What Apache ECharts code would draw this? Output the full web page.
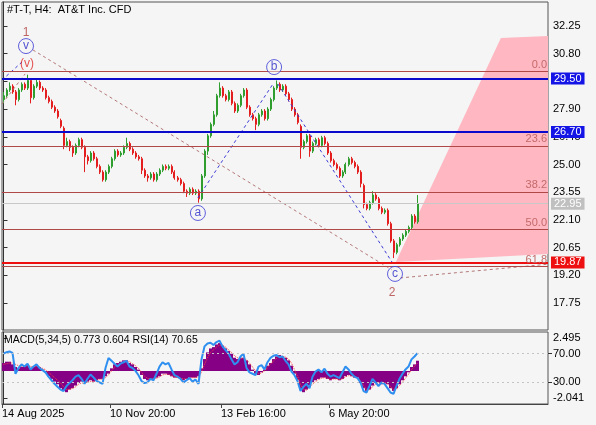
<!DOCTYPE html>
<html>
<head>
<meta charset="utf-8">
<script src="https://cdn.jsdelivr.net/npm/echarts@6/dist/echarts.min.js"></script>
<style>
  html, body { margin: 0; padding: 0; background: #f5f5f5; }
  #chart { width: 596px; height: 425px; }
</style>
</head>
<body>
<div id="chart"></div>
<script>
// H4 candles (one per bar, left to right)
const candleOpen = [
  28.4, 28.6, 28.9, 29.1, 28.8, 28.4, 28.9, 29.2, 29.0, 29.4,
  28.5, 29.1, 29.3, 29.0, 28.9, 28.5, 28.3, 28.0, 27.8, 27.3,
  26.9, 26.0, 26.2, 25.9, 25.6, 26.0, 26.3, 25.9, 25.4, 25.2,
  25.6, 25.3, 24.9, 24.6, 24.2, 24.6, 24.9, 25.3, 25.7, 25.5,
  25.6, 25.9, 26.1, 25.8, 25.6, 25.4, 25.3, 24.7, 24.4, 24.3,
  24.5, 24.2, 24.5, 24.7, 24.9, 24.8, 24.9, 24.6, 24.3, 24.2,
  24.0, 23.6, 23.5, 23.7, 23.5, 23.6, 23.2, 24.4, 25.7, 26.5,
  27.1, 27.6, 28.6, 29.0, 28.6, 28.4, 28.8, 28.2, 27.8, 28.1,
  28.6, 28.9, 28.0, 27.6, 27.4, 27.1, 27.6, 27.8, 27.4, 27.9,
  28.4, 29.0, 29.2, 28.9, 29.1, 28.7, 28.4, 27.9, 27.6, 27.0,
  25.9, 26.2, 26.5, 25.7, 26.1, 26.3, 26.0, 26.4, 26.1, 25.6,
  25.2, 25.0, 24.8, 24.4, 24.6, 25.0, 25.3, 25.1, 24.9, 24.6,
  23.9, 22.9, 22.7, 23.0, 23.4, 23.2, 22.7, 22.5, 22.6, 21.9,
  21.0, 20.4, 20.8, 21.1, 21.3, 21.5, 21.7, 22.3, 22.0
];
const candleClose = [
  28.6, 28.9, 29.1, 28.8, 28.4, 28.9, 29.2, 29.0, 29.4, 28.5,
  29.1, 29.3, 29.0, 28.9, 28.5, 28.3, 28.0, 27.8, 27.5, 27.0,
  26.0, 26.2, 25.9, 25.6, 26.0, 26.3, 25.9, 25.4, 25.2, 25.6,
  25.3, 24.9, 24.6, 24.2, 24.6, 24.9, 25.3, 25.7, 25.5, 25.6,
  25.9, 26.1, 25.8, 25.6, 25.4, 25.3, 24.7, 24.4, 24.3, 24.5,
  24.2, 24.5, 24.7, 24.9, 24.8, 24.9, 24.6, 24.3, 24.2, 24.0,
  23.6, 23.5, 23.7, 23.5, 23.6, 23.2, 24.4, 25.7, 26.5, 27.1,
  27.6, 28.6, 29.0, 28.6, 28.4, 28.8, 28.2, 27.8, 28.1, 28.6,
  28.9, 28.0, 27.6, 27.4, 27.1, 27.6, 27.8, 27.4, 27.9, 28.4,
  29.0, 29.2, 28.9, 29.1, 28.7, 28.4, 27.9, 27.6, 27.2, 25.9,
  26.2, 26.5, 25.7, 26.1, 26.3, 26.0, 26.4, 26.1, 25.6, 25.2,
  25.0, 24.8, 24.4, 24.6, 25.0, 25.3, 25.1, 24.9, 24.6, 24.0,
  22.9, 22.7, 23.0, 23.4, 23.2, 22.7, 22.5, 22.6, 21.9, 21.0,
  20.4, 20.8, 21.1, 21.3, 21.5, 21.7, 22.3, 22.0, 22.95
];
const candleLow = [
  28.2, 28.5, 28.8, 28.7, 28.1, 28.3, 28.8, 28.9, 28.9, 28.2,
  28.4, 29.0, 28.9, 28.8, 28.4, 28.2, 27.9, 27.7, 27.4, 26.9,
  25.8, 25.9, 25.7, 25.4, 25.5, 25.9, 25.8, 24.6, 25.0, 25.1,
  25.2, 24.8, 24.5, 24.1, 24.1, 24.5, 24.8, 25.2, 25.4, 25.4,
  25.5, 25.8, 25.7, 25.5, 25.3, 25.2, 24.5, 24.3, 24.1, 24.2,
  24.1, 24.1, 24.4, 24.6, 24.7, 24.7, 24.5, 24.2, 24.1, 23.9,
  23.5, 23.3, 23.4, 23.4, 23.4, 23.0, 23.1, 24.3, 25.5, 26.4,
  27.0, 27.5, 28.5, 28.5, 28.3, 28.3, 28.1, 27.7, 27.7, 28.0,
  28.5, 27.9, 27.5, 27.3, 26.8, 27.0, 27.5, 27.3, 27.3, 27.8,
  28.3, 28.9, 28.8, 28.8, 28.6, 28.3, 27.8, 27.5, 27.1, 25.3,
  25.8, 26.1, 25.4, 25.6, 26.0, 25.9, 25.9, 26.0, 25.5, 25.1,
  24.9, 24.7, 24.3, 24.3, 24.5, 24.9, 25.0, 24.8, 24.5, 23.8,
  22.7, 22.6, 22.6, 22.9, 23.1, 22.6, 22.4, 22.4, 21.8, 20.9,
  20.1, 20.3, 20.7, 21.0, 21.2, 21.4, 21.6, 21.9, 21.9
];
const candleHigh = [
  28.8, 29.0, 29.3, 29.2, 28.9, 29.0, 29.3, 29.3, 29.7, 29.5,
  29.2, 29.5, 29.4, 29.1, 29.0, 28.6, 28.4, 28.1, 27.9, 27.4,
  27.0, 26.4, 26.3, 26.0, 26.1, 26.4, 26.4, 26.0, 25.5, 25.7,
  25.7, 25.4, 25.0, 24.7, 24.7, 25.0, 25.4, 25.8, 25.8, 25.7,
  26.0, 26.4, 26.2, 25.9, 25.7, 25.5, 25.4, 24.8, 24.5, 24.6,
  24.6, 24.6, 24.8, 25.0, 25.0, 25.0, 25.0, 24.7, 24.4, 24.3,
  24.1, 23.7, 23.8, 23.8, 23.7, 23.7, 24.5, 25.8, 26.6, 27.2,
  27.8, 28.7, 29.3, 29.1, 28.7, 28.9, 28.9, 28.3, 28.2, 28.7,
  29.0, 29.0, 28.1, 27.7, 27.5, 27.7, 27.9, 27.9, 28.0, 28.5,
  29.1, 29.4, 29.3, 29.2, 29.2, 28.8, 28.5, 28.0, 27.7, 27.1,
  26.3, 26.6, 26.6, 26.2, 26.4, 26.4, 26.5, 26.5, 26.2, 25.7,
  25.3, 25.1, 24.9, 24.7, 25.1, 25.4, 25.4, 25.2, 25.0, 24.7,
  24.0, 23.0, 23.1, 23.6, 23.5, 23.3, 22.8, 22.7, 22.7, 22.0,
  21.1, 20.9, 21.2, 21.4, 21.6, 21.8, 22.4, 22.4, 23.4
];

// MACD(5,34,5) histogram + signal, RSI(14)
const macdHist = [
  0.6, 0.7, 0.7, 0.5, 0.3,
  0.2, 0.3, 0.4, 0.5, 0.2, 0.3, 0.4, 0.3, 0.1, -0.1,
  -0.4, -0.6, -0.8, -1.0, -1.3, -1.5, -1.6,
  -1.4, -1.3, -1.1, -0.9, -0.8, -0.9,
  -0.8, -0.7, -0.8, -0.7, -0.6, -0.6, -0.4, -0.2,
  0.2, 0.5, 0.6, 0.7, 0.8, 0.8, 0.6, 0.5, 0.3, 0.1,
  -0.3, -0.6, -0.7, -0.6, -0.6, -0.5, -0.4, -0.2, -0.2,
  -0.3, -0.4, -0.5, -0.5, -0.6, -0.7, -0.6, -0.5, -0.5, -0.5, -0.4,
  0.2, 0.9, 1.4, 1.7, 1.8, 2.0, 2.1,
  1.9, 1.7, 1.5, 1.3, 1.0, 0.9, 1.0, 1.0, 0.8, 0.5,
  0.1, -0.2, -0.3, -0.1, 0.1,
  0.4, 0.6, 0.9, 1.1, 1.2, 1.1, 1.0, 0.8, 0.4,
  -0.2, -0.7, -1.4, -1.6, -1.4, -1.1,
  -0.9, -0.7, -0.6, -0.5, -0.5, -0.6, -0.7, -0.6,
  -0.6, -0.7, -0.6, -0.4, -0.3, -0.4, -0.5, -0.5,
  -0.9, -1.3, -1.5, -1.4, -1.1, -0.9,
  -0.9, -1.0, -0.9, -1.0, -1.3, -1.5,
  -1.3, -1.0, -0.7, -0.4, -0.1, 0.3, 0.5, 0.773
];
const macdSignal = [
  0.5, 0.55, 0.6, 0.6, 0.5,
  0.4, 0.35, 0.35, 0.4, 0.35, 0.3, 0.35, 0.3, 0.2, 0.1,
  -0.1, -0.3, -0.5, -0.7, -0.9, -1.2, -1.4,
  -1.4, -1.3, -1.2, -1.0, -0.9, -0.9,
  -0.85, -0.8, -0.8, -0.7, -0.65, -0.6, -0.5, -0.3,
  0.0, 0.3, 0.45, 0.6, 0.7, 0.75, 0.7, 0.55, 0.4, 0.2,
  -0.1, -0.4, -0.55, -0.6, -0.6, -0.55, -0.45, -0.3, -0.25,
  -0.25, -0.35, -0.45, -0.5, -0.55, -0.6, -0.6, -0.55, -0.5, -0.5, -0.45,
  -0.1, 0.5, 1.0, 1.4, 1.6, 1.8, 1.95,
  1.95, 1.8, 1.6, 1.4, 1.15, 1.0, 0.95, 0.95, 0.85, 0.6,
  0.3, 0.0, -0.2, -0.15, 0.0,
  0.25, 0.5, 0.75, 0.95, 1.1, 1.1, 1.05, 0.9, 0.6,
  0.1, -0.4, -1.0, -1.4, -1.45, -1.2,
  -1.0, -0.8, -0.65, -0.55, -0.5, -0.55, -0.65, -0.6,
  -0.6, -0.65, -0.6, -0.45, -0.35, -0.35, -0.45, -0.5,
  -0.75, -1.1, -1.4, -1.4, -1.2, -1.0,
  -0.9, -0.95, -0.9, -0.95, -1.2, -1.4,
  -1.35, -1.1, -0.85, -0.55, -0.25, 0.1, 0.35, 0.604
];
const rsiValues = [
  70, 72, 73, 71, 42,
  50, 55, 52, 56, 48, 52, 55, 50, 47, 44,
  38, 33, 28, 24, 20, 18, 25,
  29, 33, 38, 40, 35, 28,
  35, 41, 37, 32, 30, 28, 50, 64,
  60, 56, 52, 56, 58, 60, 52, 50, 46, 40,
  32, 29, 30, 35, 33, 42, 52, 58, 55,
  57, 48, 40, 38, 35, 30, 33, 36, 31, 34, 28,
  62, 80, 84, 85, 82, 86, 88,
  80, 75, 70, 62, 55, 58, 66, 70, 50, 44,
  42, 40, 52, 54, 48,
  58, 64, 67, 68, 65, 66, 60, 55, 45,
  40, 32, 18, 24, 28, 22,
  38, 45, 48, 44, 49, 42, 38, 40,
  38, 36, 44, 52, 48, 42, 38, 36,
  30, 18, 16, 25, 35, 30,
  25, 30, 28, 22, 16, 14,
  25, 35, 42, 48, 52, 62, 66, 70.65
];

const priceTicks = [17.75, 19.20, 20.65, 22.10, 23.55, 25.00, 26.45, 27.90, 29.35, 30.80, 32.25];
const dateLabels = ['14 Aug 2025', '10 Nov 20:00', '13 Feb 16:00', '6 May 20:00'];
const dateLabelBars = [0, 36, 73, 109];

const fibLevels = [29.89, 25.98, 23.57, 21.62, 19.66];
const fibNames = ['0.0', '23.6', '38.2', '50.0', '61.8'];
const blueLevels = [29.50, 26.70];
const redLevel = 19.87;
const lastPrice = 22.95;

// wave count marks (bar index, price)
const waveCircles = [[7.5, 31.20, 'v'], [64.8, 22.46, 'a'], [90.2, 30.10, 'b'], [130.5, 19.27, 'c']];
const waveTexts = [[7.5, 31.88, '1', '#b04040'], [7.8, 30.26, '(v)', '#e02828'], [129.5, 18.27, '2', '#b04040']];
const brownDash = [
  [[-0.5, 28.17], [7.2, 29.74]],
  [[9.8, 31.00], [129.5, 19.48]],
  [[132.2, 19.06], [181.5, 19.78]]
];
const blueDash = [
  [[-0.5, 29.42], [6.2, 30.37]],
  [[64.8, 23.25], [89.8, 29.21]],
  [[91.5, 29.21], [129.5, 19.89]]
];
const projZone = [[130.8, 19.89], [165.8, 31.62], [181.5, 31.73], [181.5, 20.31]];

const slotCount = 182;
const slots = Array.from({ length: slotCount }, (_, i) => i);
const ohlc = candleOpen.map((o, i) => [o, candleClose[i], candleLow[i], candleHigh[i]]);

const font = "Liberation Sans";
const axisText = { color: "#000", fontSize: 11, fontFamily: font };

function levelLabel(bg) {
  return {
    show: true, position: "end", distance: 3, formatter: (p) => p.value.toFixed(2),
    color: "#fff", backgroundColor: bg, padding: [1, 3, 0, 3], fontSize: 11, fontFamily: font,
  };
}

const markLines = [];
fibLevels.forEach((v, i) => {
  markLines.push({
    yAxis: v,
    lineStyle: { color: "#b04848", width: 1, type: "solid" },
    label: { show: true, position: "insideEndTop", distance: 1, formatter: fibNames[i], color: "#c46a6a", fontSize: 11, fontFamily: font },
  });
});
markLines.push({ yAxis: lastPrice, lineStyle: { color: "#c8c8c8", width: 1, type: "solid" }, label: levelLabel("#c0c0c0") });
blueLevels.forEach((v) => {
  markLines.push({ yAxis: v, lineStyle: { color: "#0a0acc", width: 2, type: "solid" }, label: levelLabel("#1414e6") });
});
markLines.push({ yAxis: redLevel, lineStyle: { color: "#ee1010", width: 2, type: "solid" }, label: levelLabel("#ee1010") });

const chart = echarts.init(document.getElementById("chart"));
chart.setOption({
  animation: false,
  backgroundColor: "#f5f5f5",
  textStyle: { fontFamily: font },
  grid: [
    { left: 2, top: 2, width: 546, height: 328, show: true, borderColor: "#555", borderWidth: 1, outerBoundsMode: "none" },
    { left: 2, top: 332, width: 546, height: 72, show: true, borderColor: "#555", borderWidth: 1, outerBoundsMode: "none" },
  ],
  graphic: [
    { type: "text", left: 7, top: 4, style: { text: "#T-T, H4:  AT&T Inc. CFD", fill: "#000", font: "11px " + font } },
    { type: "text", left: 4, top: 335, z: 100, style: { text: "MACD(5,34,5) 0.773 0.604 RSI(14) 70.65", fill: "#000", font: "10.5px " + font } },
  ],
  xAxis: [
    { type: "category", gridIndex: 0, data: slots, boundaryGap: true, show: false },
    { type: "value", gridIndex: 0, min: -0.5, max: slotCount - 0.5, show: false },
    { type: "category", gridIndex: 1, data: slots, boundaryGap: true, show: false },
    {
      type: "value", gridIndex: 1, min: -0.5, max: slotCount - 0.5, position: "bottom",
      axisLine: { show: true, lineStyle: { color: "#444" } },
      axisTick: { show: true, length: 4, lineStyle: { color: "#444" }, customValues: dateLabelBars.map((b) => b - 0.5) },
      axisLabel: {
        ...axisText, align: "left", margin: 4,
        customValues: dateLabelBars.map((b) => b - 0.5),
        formatter: (v) => dateLabels[dateLabelBars.indexOf(v + 0.5)] || "",
      },
      splitLine: { show: false },
    },
  ],
  yAxis: [
    {
      type: "value", gridIndex: 0, position: "right", min: 16.334, max: 33.507, scale: true,
      axisLine: { show: true, lineStyle: { color: "#333" } },
      axisTick: { show: true, length: 4, lineStyle: { color: "#333" }, customValues: priceTicks },
      axisLabel: { ...axisText, margin: 5, customValues: priceTicks, formatter: (v) => v.toFixed(2) },
      splitLine: { show: false },
    },
    {
      type: "value", gridIndex: 1, position: "right", min: -2.49, max: 2.94,
      axisLine: { show: true, lineStyle: { color: "#333" } },
      axisTick: { show: true, length: 4, lineStyle: { color: "#333" }, customValues: [-2.041, 2.495] },
      axisLabel: { ...axisText, margin: 5, customValues: [-2.041, 2.495], formatter: (v) => v.toFixed(3) },
      splitLine: { show: false },
    },
    {
      type: "value", gridIndex: 1, position: "right", min: 0, max: 100,
      axisLine: { show: false },
      axisTick: { show: true, length: 4, lineStyle: { color: "#333" }, customValues: [30, 70] },
      axisLabel: { ...axisText, margin: 5, customValues: [30, 70], formatter: (v) => v.toFixed(2) },
      splitLine: { show: false },
    },
  ],
  series: [
    {
      type: "custom", xAxisIndex: 1, yAxisIndex: 0, z: 1, silent: true,
      data: [projZone[0]],
      renderItem: (params, api) => ({
        type: "polygon",
        shape: { points: projZone.map((p) => api.coord(p)) },
        style: { fill: "#ffb7c1" },
      }),
    },
    {
      type: "candlestick", xAxisIndex: 0, yAxisIndex: 0, z: 3, data: ohlc, barWidth: 1.5,
      itemStyle: { color: "#2f9e2f", color0: "#e41e1e", borderColor: "#2f9e2f", borderColor0: "#e41e1e", borderWidth: 1 },
      markLine: { silent: true, symbol: "none", animation: false, data: markLines },
    },
    {
      type: "lines", coordinateSystem: "cartesian2d", xAxisIndex: 1, yAxisIndex: 0, z: 4, silent: true,
      lineStyle: { color: "#b47878", width: 1, type: [3, 3], opacity: 1 },
      data: brownDash.map((c) => ({ coords: c })),
    },
    {
      type: "lines", coordinateSystem: "cartesian2d", xAxisIndex: 1, yAxisIndex: 0, z: 4, silent: true,
      lineStyle: { color: "#3a3ad6", width: 1, type: [3, 3], opacity: 1 },
      data: blueDash.map((c) => ({ coords: c })),
    },
    {
      type: "scatter", xAxisIndex: 1, yAxisIndex: 0, z: 5, silent: true,
      symbol: "circle", symbolSize: 15,
      itemStyle: { color: "rgba(245,245,245,0.6)", borderColor: "#3a3ad6", borderWidth: 1 },
      label: { show: true, position: "inside", formatter: "{b}", color: "#2a2ac8", fontSize: 12, fontFamily: font },
      data: waveCircles.map((w) => ({ value: [w[0], w[1]], name: w[2] })),
    },
    {
      type: "scatter", xAxisIndex: 1, yAxisIndex: 0, z: 5, silent: true, symbolSize: 0,
      label: { show: true, position: "inside", formatter: "{b}", fontSize: 12, fontFamily: font },
      data: waveTexts.map((w) => ({ value: [w[0], w[1]], name: w[2], label: { color: w[3] } })),
    },
    {
      type: "bar", xAxisIndex: 2, yAxisIndex: 1, data: macdHist, barCategoryGap: "0%",
      itemStyle: { color: "#850085" }, silent: true,
    },
    {
      type: "line", xAxisIndex: 2, yAxisIndex: 1, data: macdSignal, symbol: "none", silent: true,
      lineStyle: { color: "#ff4040", width: 1, type: "dotted" },
    },
    {
      type: "line", xAxisIndex: 2, yAxisIndex: 2, data: rsiValues, symbol: "none", silent: true, z: 4,
      lineStyle: { color: "#2e8ff0", width: 2 },
      markLine: {
        silent: true, symbol: "none", label: { show: false },
        lineStyle: { color: "#c4c4c4", width: 1, type: [2, 3] },
        data: [{ yAxis: 70 }, { yAxis: 30 }],
      },
    },
  ],
});
</script>
</body>
</html>
